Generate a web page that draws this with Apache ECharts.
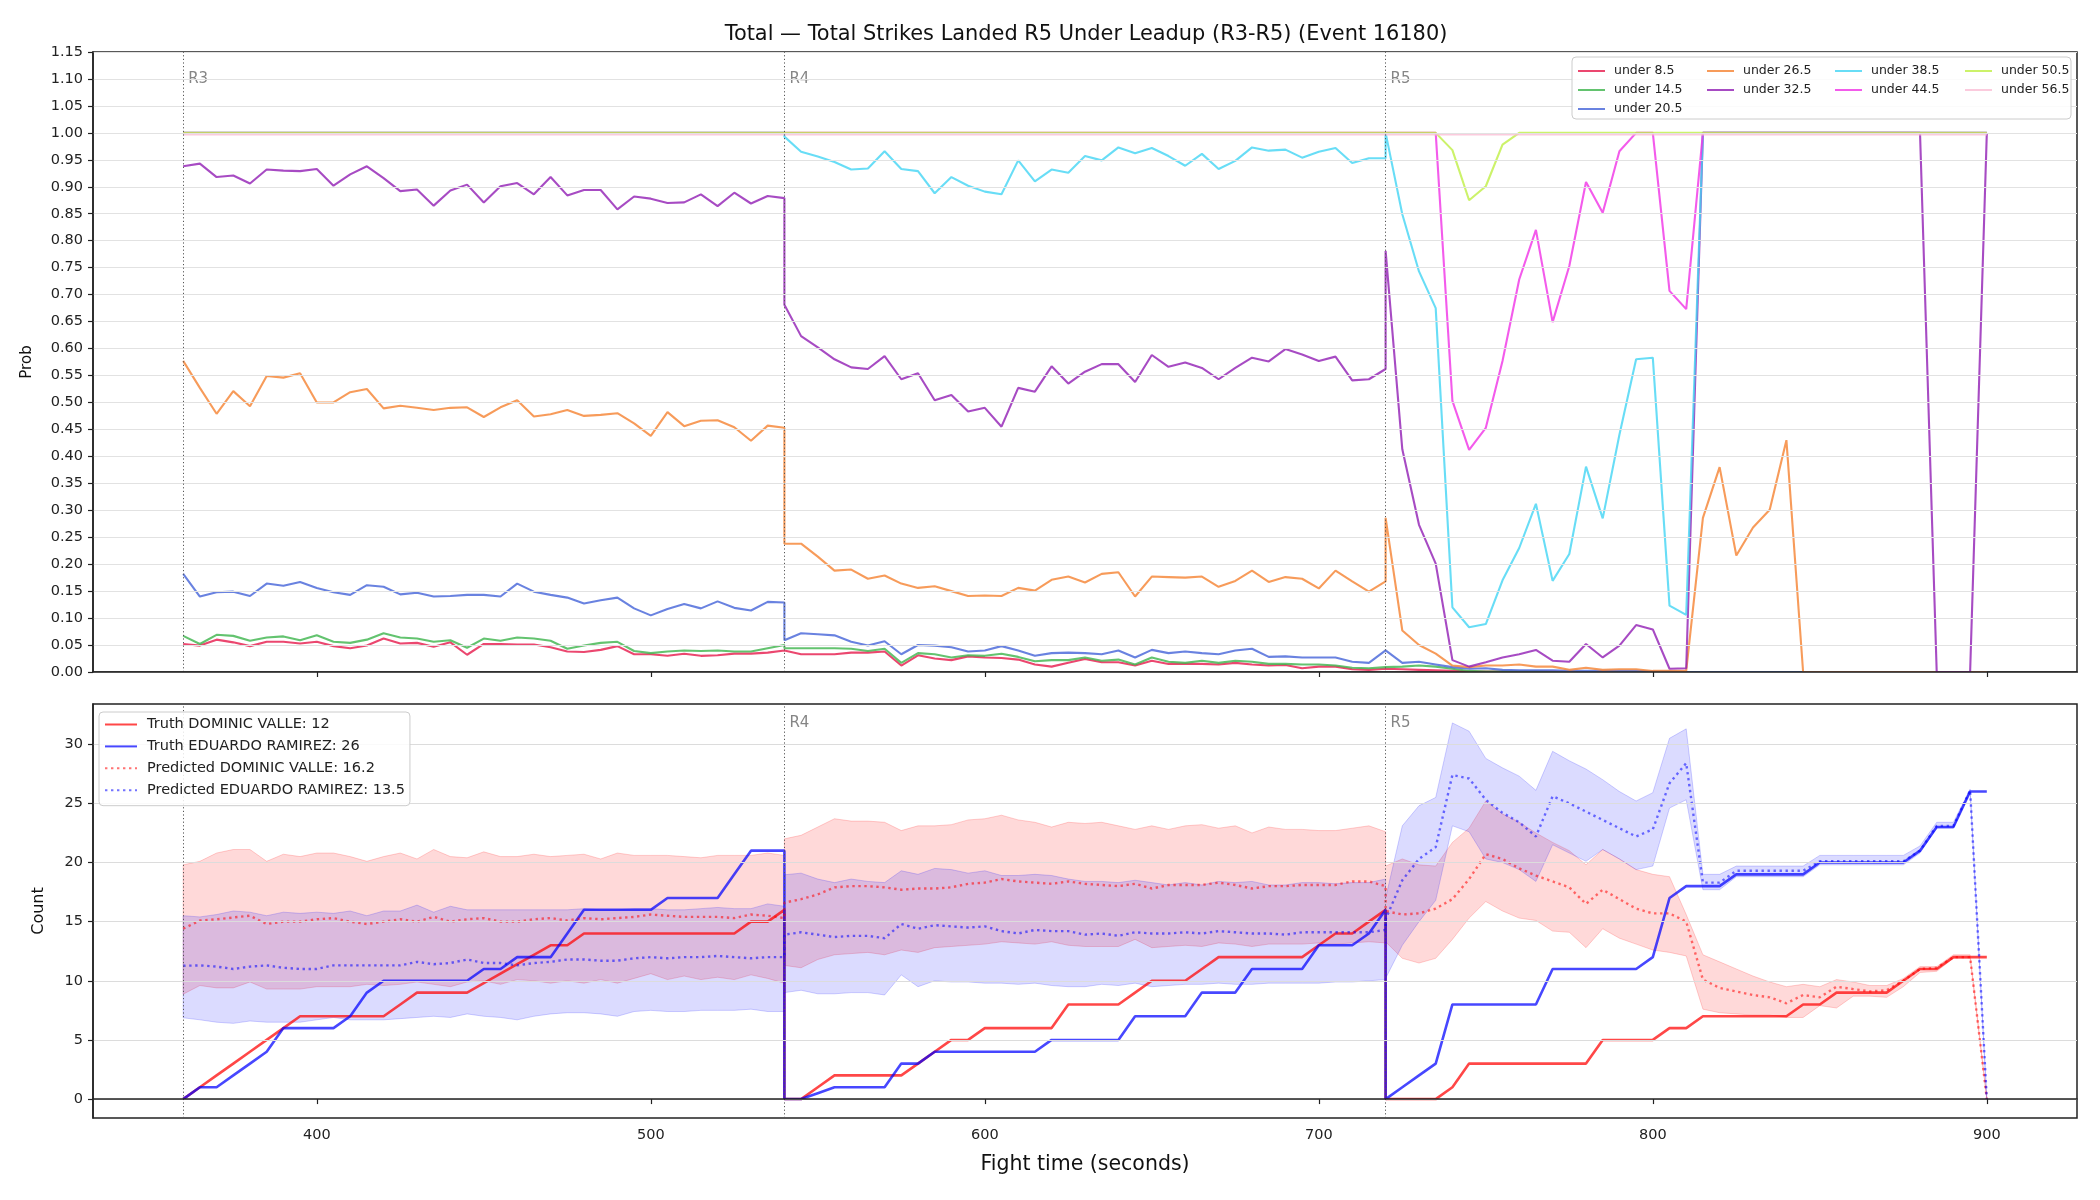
<!DOCTYPE html>
<html>
<head>
<meta charset="utf-8">
<script src="https://cdn.jsdelivr.net/npm/echarts@6/dist/echarts.min.js"></script>
<style>
html, body { margin: 0; padding: 0; background: #fff; }
#chart { width: 2100px; height: 1200px; }
</style>
</head>
<body>
<div id="chart"></div>
<script>
const roundNames = ['R3', 'R4', 'R5']
const roundStarts = [360, 540, 720]
const stepOffsets = [0, 5, 10, 15, 20, 25, 30, 35, 40, 45, 50, 55, 60, 65, 70, 75, 80, 85, 90, 95,
  100, 105, 110, 115, 120, 125, 130, 135, 140, 145, 150, 155, 160, 165, 170, 175, 180]
const timeTicks = [400, 500, 600, 700, 800, 900]
const countTicks = [0, 5, 10, 15, 20, 25, 30]

const thresholdNames = ['under 8.5', 'under 14.5', 'under 20.5', 'under 26.5', 'under 32.5',
  'under 38.5', 'under 44.5', 'under 50.5', 'under 56.5']
const thresholdColors = ['#e6194b', '#3cb44b', '#4363d8', '#f58231', '#911eb4',
  '#42d4f4', '#f032e6', '#bfef45', '#fabed4']

// probabilities, one value per 5 s sample: R3 | R4 | R5
const under8_5 = [
  0.052, 0.049, 0.060, 0.055, 0.048, 0.056, 0.056, 0.053, 0.056, 0.048, 0.044, 0.049, 0.062, 0.053, 0.054, 0.047, 0.055, 0.032, 0.052, 0.052, 0.051, 0.051, 0.046, 0.038, 0.037, 0.041, 0.048, 0.033, 0.033, 0.030, 0.034, 0.030, 0.031, 0.034, 0.034, 0.036, 0.040,
  0.038, 0.033, 0.033, 0.033, 0.036, 0.036, 0.038, 0.012, 0.031, 0.025, 0.022, 0.029, 0.027, 0.026, 0.023, 0.014, 0.010, 0.017, 0.024, 0.018, 0.018, 0.012, 0.021, 0.015, 0.015, 0.015, 0.014, 0.017, 0.014, 0.012, 0.013, 0.007, 0.010, 0.010, 0.005, 0.004, 0.006,
  0.006, 0.005, 0.004, 0.003, 0.002, 0.001, 0.001, 0.001, 0.001, 0.001, 0.001, 0, 0, 0, 0, 0, 0, 0, 0, 0, 0, 0, 0, 0, 0, 0, 0, 0, 0, 0, 0, 0, 0, 0, 0, 0, 0
]
const under14_5 = [
  0.067, 0.052, 0.069, 0.067, 0.058, 0.064, 0.066, 0.059, 0.068, 0.056, 0.054, 0.060, 0.072, 0.064, 0.062, 0.056, 0.059, 0.045, 0.062, 0.058, 0.064, 0.062, 0.058, 0.043, 0.049, 0.054, 0.056, 0.039, 0.035, 0.038, 0.040, 0.039, 0.040, 0.038, 0.038, 0.044, 0.050,
  0.044, 0.044, 0.044, 0.044, 0.043, 0.039, 0.043, 0.017, 0.035, 0.033, 0.027, 0.031, 0.030, 0.034, 0.028, 0.020, 0.022, 0.022, 0.027, 0.021, 0.023, 0.014, 0.027, 0.019, 0.017, 0.021, 0.017, 0.021, 0.019, 0.015, 0.015, 0.014, 0.014, 0.012, 0.008, 0.007, 0.009,
  0.010, 0.010, 0.012, 0.010, 0.006, 0.002, 0.001, 0.001, 0.001, 0.001, 0, 0, 0, 0, 0, 0, 0, 0, 0, 0, 0, 0, 0, 0, 0, 0, 0, 0, 0, 0, 0, 0, 0, 0, 0, 0, 0
]
const under20_5 = [
  0.182, 0.140, 0.148, 0.149, 0.141, 0.164, 0.160, 0.167, 0.156, 0.148, 0.143, 0.161, 0.158, 0.144, 0.147, 0.140, 0.141, 0.143, 0.143, 0.140, 0.164, 0.149, 0.143, 0.138, 0.127, 0.133, 0.138, 0.118, 0.105, 0.117, 0.126, 0.118, 0.131, 0.119, 0.114, 0.130, 0.129,
  0.059, 0.072, 0.070, 0.068, 0.056, 0.049, 0.057, 0.033, 0.050, 0.049, 0.046, 0.038, 0.040, 0.048, 0.040, 0.030, 0.035, 0.036, 0.035, 0.033, 0.040, 0.027, 0.041, 0.035, 0.038, 0.035, 0.033, 0.040, 0.043, 0.028, 0.029, 0.027, 0.027, 0.027, 0.019, 0.017, 0.040,
  0.042, 0.017, 0.019, 0.014, 0.009, 0.006, 0.007, 0.004, 0.003, 0.003, 0.003, 0.002, 0.002, 0.002, 0.002, 0.002, 0.001, 0.001, 0, 0, 0, 0, 0, 0, 0, 0, 0, 0, 0, 0, 0, 0, 0, 0, 0, 0, 0
]
const under26_5 = [
  0.577, 0.527, 0.479, 0.521, 0.493, 0.549, 0.546, 0.554, 0.500, 0.500, 0.519, 0.525, 0.489, 0.494, 0.490, 0.486, 0.490, 0.491, 0.473, 0.491, 0.504, 0.474, 0.478, 0.486, 0.475, 0.477, 0.480, 0.461, 0.438, 0.482, 0.456, 0.466, 0.467, 0.454, 0.429, 0.457, 0.453,
  0.238, 0.238, 0.214, 0.188, 0.190, 0.173, 0.179, 0.164, 0.156, 0.159, 0.150, 0.141, 0.142, 0.141, 0.156, 0.151, 0.171, 0.177, 0.166, 0.182, 0.185, 0.140, 0.177, 0.176, 0.175, 0.177, 0.158, 0.169, 0.188, 0.167, 0.176, 0.173, 0.155, 0.188, 0.168, 0.149, 0.168,
  0.286, 0.077, 0.050, 0.034, 0.012, 0.009, 0.012, 0.012, 0.014, 0.010, 0.010, 0.004, 0.008, 0.004, 0.005, 0.005, 0.002, 0.002, 0.002, 0.286, 0.380, 0.216, 0.268, 0.301, 0.430, 0, 0, 0, 0, 0, 0, 0, 0, 0, 0, 0, 0
]
const under32_5 = [
  0.938, 0.943, 0.918, 0.921, 0.906, 0.932, 0.930, 0.929, 0.933, 0.902, 0.923, 0.938, 0.916, 0.892, 0.895, 0.865, 0.893, 0.904, 0.871, 0.901, 0.907, 0.886, 0.918, 0.884, 0.894, 0.894, 0.858, 0.882, 0.878, 0.870, 0.871, 0.886, 0.864, 0.889, 0.869, 0.883, 0.879,
  0.681, 0.623, 0.602, 0.580, 0.565, 0.562, 0.586, 0.543, 0.554, 0.504, 0.514, 0.483, 0.490, 0.455, 0.527, 0.520, 0.567, 0.535, 0.557, 0.571, 0.571, 0.538, 0.588, 0.566, 0.574, 0.564, 0.543, 0.564, 0.583, 0.576, 0.599, 0.589, 0.577, 0.585, 0.541, 0.543, 0.562,
  0.781, 0.413, 0.273, 0.201, 0.022, 0.010, 0.018, 0.027, 0.033, 0.041, 0.021, 0.019, 0.052, 0.027, 0.049, 0.087, 0.079, 0.006, 0.007, 1, 1, 1, 1, 1, 1, 1, 1, 1, 1, 1, 1, 1, 1, 0, 0, 0, 1
]
const under38_5 = [
  1, 1, 1, 1, 1, 1, 1, 1, 1, 1, 1, 1, 1, 1, 1, 1, 1, 1, 1, 1, 1, 1, 1, 1, 1, 1, 1, 1, 1, 1, 1, 1, 1, 1, 1, 1, 1,
  0.993, 0.965, 0.956, 0.946, 0.932, 0.934, 0.966, 0.933, 0.929, 0.888, 0.918, 0.902, 0.891, 0.886, 0.949, 0.910, 0.932, 0.926, 0.957, 0.949, 0.973, 0.962, 0.972, 0.957, 0.939, 0.961, 0.933, 0.948, 0.973, 0.967, 0.969, 0.954, 0.965, 0.972, 0.944, 0.953, 0.953,
  1, 0.849, 0.743, 0.675, 0.120, 0.083, 0.089, 0.170, 0.230, 0.312, 0.169, 0.219, 0.381, 0.285, 0.440, 0.580, 0.583, 0.123, 0.106, 1, 1, 1, 1, 1, 1, 1, 1, 1, 1, 1, 1, 1, 1, 1, 1, 1, 1
]
const under44_5 = [
  1, 1, 1, 1, 1, 1, 1, 1, 1, 1, 1, 1, 1, 1, 1, 1, 1, 1, 1, 1, 1, 1, 1, 1, 1, 1, 1, 1, 1, 1, 1, 1, 1, 1, 1, 1, 1,
  1, 1, 1, 1, 1, 1, 1, 1, 1, 1, 1, 1, 1, 1, 1, 1, 1, 1, 1, 1, 1, 1, 1, 1, 1, 1, 1, 1, 1, 1, 1, 1, 1, 1, 1, 1, 1,
  1, 1, 1, 1, 0.503, 0.412, 0.453, 0.577, 0.728, 0.820, 0.649, 0.753, 0.909, 0.852, 0.966, 1, 1, 0.707, 0.673, 1, 1, 1, 1, 1, 1, 1, 1, 1, 1, 1, 1, 1, 1, 1, 1, 1, 1
]
const under50_5 = [
  1, 1, 1, 1, 1, 1, 1, 1, 1, 1, 1, 1, 1, 1, 1, 1, 1, 1, 1, 1, 1, 1, 1, 1, 1, 1, 1, 1, 1, 1, 1, 1, 1, 1, 1, 1, 1,
  1, 1, 1, 1, 1, 1, 1, 1, 1, 1, 1, 1, 1, 1, 1, 1, 1, 1, 1, 1, 1, 1, 1, 1, 1, 1, 1, 1, 1, 1, 1, 1, 1, 1, 1, 1, 1,
  1, 1, 1, 1, 0.968, 0.875, 0.901, 0.978, 1, 1, 1, 1, 1, 1, 1, 1, 1, 1, 1, 1, 1, 1, 1, 1, 1, 1, 1, 1, 1, 1, 1, 1, 1, 1, 1, 1, 1
]
const under56_5 = [
  0.997, 0.997, 0.997, 0.997, 0.997, 0.997, 0.997, 0.997, 0.997, 0.997, 0.997, 0.997, 0.997, 0.997, 0.997, 0.997, 0.997, 0.997, 0.997, 0.997, 0.997, 0.997, 0.997, 0.997, 0.997, 0.997, 0.997, 0.997, 0.997, 0.997, 0.997, 0.997, 0.997, 0.997, 0.997, 0.997, 0.997,
  0.997, 0.997, 0.997, 0.997, 0.997, 0.997, 0.997, 0.997, 0.997, 0.997, 0.997, 0.997, 0.997, 0.997, 0.997, 0.997, 0.997, 0.997, 0.997, 0.997, 0.997, 0.997, 0.997, 0.997, 0.997, 0.997, 0.997, 0.997, 0.997, 0.997, 0.997, 0.997, 0.997, 0.997, 0.997, 0.997, 0.997,
  0.997, 0.997, 0.997, 0.997, 0.997, 0.997, 0.997, 0.997, 0.997, 0.997, 0.997, 0.997, 0.997, 0.997, 0.997, 0.997, 0.997, 0.997, 0.997, 0.997, 0.997, 0.997, 0.997, 0.997, 0.997, 0.997, 0.997, 0.997, 0.997, 0.997, 0.997, 0.997, 0.997, 0.997, 0.997, 0.997, 0.997
]
const probSeries = [under8_5, under14_5, under20_5, under26_5, under32_5, under38_5, under44_5, under50_5, under56_5]

// counts
const fighterLabels = ['Truth DOMINIC VALLE: 12', 'Truth EDUARDO RAMIREZ: 26',
  'Predicted DOMINIC VALLE: 16.2', 'Predicted EDUARDO RAMIREZ: 13.5']

const truthValle = [
  0, 1, 2, 3, 4, 5, 6, 7, 7, 7, 7, 7, 7, 8, 9, 9, 9, 9, 9.8, 10.6, 11.4, 12.2, 13, 13, 14, 14, 14, 14, 14, 14, 14, 14, 14, 14, 15, 15, 16,
  0, 0, 1, 2, 2, 2, 2, 2, 3, 4, 5, 5, 6, 6, 6, 6, 6, 8, 8, 8, 8, 9, 10, 10, 10, 11, 12, 12, 12, 12, 12, 12, 13, 14, 14, 15, 16,
  0, 0, 0, 0, 1, 3, 3, 3, 3, 3, 3, 3, 3, 5, 5, 5, 5, 6, 6, 7, 7, 7, 7, 7, 7, 8, 8, 9, 9, 9, 9, 10, 11, 11, 12, 12, 12
]
const truthRamirez = [
  0, 1, 1, 2, 3, 4, 6, 6, 6, 6, 7, 9, 10, 10, 10, 10, 10, 10, 11, 11, 12, 12, 12, 14, 16, 16, 16, 16, 16, 17, 17, 17, 17, 19, 21, 21, 21,
  0, 0, 0.5, 1, 1, 1, 1, 3, 3, 4, 4, 4, 4, 4, 4, 4, 5, 5, 5, 5, 5, 7, 7, 7, 7, 9, 9, 9, 11, 11, 11, 11, 13, 13, 13, 14, 16,
  0, 1, 2, 3, 8, 8, 8, 8, 8, 8, 11, 11, 11, 11, 11, 11, 12, 17, 18, 18, 18, 19, 19, 19, 19, 19, 20, 20, 20, 20, 20, 20, 21, 23, 23, 26, 26
]
const predValle = [
  14.4, 15.1, 15.2, 15.35, 15.5, 14.8, 15.0, 15.0, 15.2, 15.3, 15.0, 14.8, 15.0, 15.2, 15.0, 15.4, 15.0, 15.2, 15.3, 15.0, 15.0, 15.2, 15.3, 15.1, 15.3, 15.2, 15.3, 15.4, 15.6, 15.5, 15.4, 15.4, 15.4, 15.3, 15.6, 15.5, 15.3,
  16.6, 16.9, 17.3, 17.9, 18.0, 18.0, 17.9, 17.7, 17.8, 17.8, 17.9, 18.2, 18.3, 18.6, 18.4, 18.3, 18.2, 18.4, 18.2, 18.1, 18.0, 18.2, 17.8, 18.1, 18.1, 18.1, 18.3, 18.1, 17.8, 18.0, 18.0, 18.1, 18.1, 18.1, 18.4, 18.4, 18.0,
  15.9, 15.6, 15.7, 16.1, 16.9, 18.6, 20.7, 20.3, 19.5, 18.9, 18.4, 17.9, 16.5, 17.7, 16.9, 16.1, 15.7, 15.7, 15.0, 10.1, 9.4, 9.1, 8.8, 8.6, 8.1, 8.8, 8.6, 9.5, 9.3, 9.1, 9.2, 10.0, 11.0, 11.1, 12.0, 12.0, 0
]
const predRamirez = [
  11.27, 11.3, 11.2, 11.0, 11.2, 11.3, 11.1, 11.0, 11.0, 11.3, 11.3, 11.3, 11.3, 11.3, 11.6, 11.4, 11.5, 11.8, 11.5, 11.5, 11.3, 11.5, 11.6, 11.8, 11.8, 11.7, 11.7, 11.9, 12.0, 11.9, 12.0, 12.0, 12.1, 12.0, 11.9, 12.0, 12.0,
  13.9, 14.1, 13.9, 13.7, 13.8, 13.8, 13.6, 14.8, 14.4, 14.7, 14.6, 14.5, 14.6, 14.2, 14.0, 14.3, 14.2, 14.2, 13.9, 14.0, 13.8, 14.1, 14.0, 14.0, 14.1, 14.0, 14.2, 14.1, 14.0, 14.0, 13.9, 14.1, 14.1, 14.1, 14.1, 14.1, 14.3,
  15.2, 18.5, 20.3, 21.3, 27.4, 27.1, 25.3, 24.2, 23.4, 22.2, 25.6, 25.0, 24.3, 23.6, 22.9, 22.2, 22.8, 26.7, 28.4, 18.3, 18.3, 19.3, 19.3, 19.3, 19.3, 19.3, 20.1, 20.1, 20.1, 20.1, 20.1, 20.1, 21.0, 23.1, 23.1, 26.1, 0
]
const valleLow = [
  8.87, 9.6, 9.4, 9.4, 9.9, 9.3, 9.3, 9.3, 9.5, 9.5, 9.5, 9.7, 9.6, 9.7, 9.9, 9.7, 9.5, 9.9, 10.0, 9.7, 10.1, 10.0, 9.8, 10.0, 9.8, 10.1, 9.8, 10.2, 10.6, 10.1, 10.4, 10.1, 10.3, 10.1, 10.5, 10.2, 9.8,
  11.3, 11.1, 11.8, 12.2, 12.3, 12.4, 12.2, 12.6, 12.4, 12.8, 12.9, 13.0, 13.1, 13.3, 13.2, 13.1, 13.3, 13.0, 12.9, 12.9, 12.9, 13.5, 12.8, 12.9, 13.0, 12.9, 13.2, 13.1, 12.9, 13.1, 13.1, 13.1, 13.2, 13.1, 13.2, 13.3, 13.2,
  13.3, 11.9, 11.5, 11.9, 13.5, 15.3, 16.7, 15.9, 15.3, 15.1, 14.2, 14.1, 12.8, 14.4, 13.6, 13.1, 12.6, 12.4, 12.1, 7.6, 7.3, 7.2, 7.1, 7.1, 6.9, 6.9, 7.9, 7.7, 8.7, 8.7, 8.6, 9.5, 10.7, 10.8, 11.9, 11.9, 0
]
const valleHigh = [
  19.8, 20.1, 20.8, 21.1, 21.1, 20.1, 20.7, 20.5, 20.8, 20.8, 20.5, 20.1, 20.5, 20.8, 20.3, 21.1, 20.5, 20.4, 20.9, 20.5, 20.5, 20.7, 20.5, 20.6, 20.7, 20.3, 20.8, 20.6, 20.6, 20.6, 20.5, 20.4, 20.6, 20.6, 20.6, 20.8, 20.6,
  22.0, 22.3, 23.0, 23.7, 23.5, 23.5, 23.4, 22.7, 23.1, 23.1, 23.2, 23.6, 23.7, 24.0, 23.6, 23.4, 23.0, 23.4, 23.3, 23.4, 23.1, 22.8, 23.1, 22.8, 23.1, 23.2, 22.9, 23.1, 22.5, 23.0, 22.8, 22.8, 22.7, 22.7, 22.9, 23.1, 22.6,
  19.7, 20.3, 19.8, 19.7, 21.7, 22.9, 25.2, 24.1, 23.4, 22.5, 21.7, 21.0, 19.8, 21.1, 20.3, 19.4, 19.0, 18.8, 15.6, 12.2, 11.6, 11.0, 10.4, 9.9, 9.5, 9.7, 9.5, 10.1, 9.9, 9.6, 9.6, 10.2, 11.2, 11.2, 12.2, 12.2, 0
]
const ramirezLow = [
  6.87, 6.7, 6.5, 6.4, 6.6, 6.5, 6.5, 6.5, 6.7, 6.9, 6.7, 6.7, 6.7, 6.8, 6.9, 7.0, 6.9, 7.2, 7.0, 6.9, 6.7, 7.0, 7.2, 7.3, 7.3, 7.2, 7.0, 7.4, 7.5, 7.4, 7.4, 7.5, 7.5, 7.5, 7.6, 7.4, 7.4,
  9.0, 9.2, 8.9, 8.9, 9.0, 9.0, 8.8, 10.5, 9.5, 10.0, 9.9, 9.9, 9.8, 9.8, 9.7, 9.8, 9.6, 9.5, 9.5, 9.7, 9.6, 9.8, 9.5, 9.6, 9.7, 9.7, 9.8, 9.7, 9.7, 9.8, 9.8, 9.8, 9.8, 9.9, 9.9, 10.0, 10.1,
  10.2, 13.0, 15.0, 16.8, 23.1, 22.6, 20.3, 20.0, 19.4, 18.4, 21.5, 20.8, 20.1, 21.1, 20.3, 19.4, 19.7, 24.6, 25.3, 17.7, 17.7, 18.8, 18.8, 18.8, 18.8, 18.8, 19.8, 19.8, 19.8, 19.8, 19.8, 19.8, 20.8, 22.9, 22.9, 26.0, 0
]
const ramirezHigh = [
  15.5, 15.4, 15.6, 15.9, 15.8, 15.5, 15.8, 15.7, 15.8, 15.7, 15.9, 15.5, 15.9, 15.9, 16.4, 15.8, 16.3, 16.0, 16.0, 16.0, 16.0, 16.0, 16.0, 16.0, 16.1, 16.0, 16.0, 16.1, 16.1, 16.0, 16.0, 16.1, 16.2, 16.1, 16.1, 16.5, 16.3,
  18.96, 19.1, 18.6, 18.3, 18.6, 18.4, 18.3, 19.3, 19.0, 19.5, 19.4, 19.1, 19.3, 18.9, 18.9, 19.0, 18.9, 18.6, 18.4, 18.4, 18.3, 18.5, 18.3, 18.1, 18.3, 18.1, 18.4, 18.3, 18.4, 18.1, 18.1, 18.3, 18.3, 18.2, 18.3, 18.3, 18.6,
  17.0, 23.1, 24.8, 25.5, 31.8, 31.1, 28.8, 28.0, 27.3, 26.1, 29.4, 28.6, 27.9, 27.0, 26.0, 25.2, 25.9, 30.5, 31.3, 19.0, 19.0, 19.7, 19.7, 19.7, 19.7, 19.7, 20.6, 20.6, 20.6, 20.6, 20.6, 20.6, 21.4, 23.4, 23.4, 26.2, 0
]

const times = []
roundStarts.forEach(start => stepOffsets.forEach(off => times.push(start + off)))

const allArrays = [...probSeries, truthValle, truthRamirez, predValle, predRamirez, valleLow, valleHigh, ramirezLow, ramirezHigh]
allArrays.forEach((arr, i) => {
  if (arr.length !== times.length) throw new Error('array ' + i + ' has ' + arr.length + ' values, expected ' + times.length)
})

const toPairs = values => times.map((t, i) => [t, values[i]])
const font = 'DejaVu Sans'

const chart = echarts.init(document.getElementById('chart'))
const series = []

// top panel: probability lines
probSeries.forEach((values, i) => {
  series.push({
    name: thresholdNames[i],
    type: 'line',
    xAxisIndex: 0,
    yAxisIndex: 0,
    data: toPairs(values),
    symbol: 'none',
    z: 3,
    lineStyle: { color: thresholdColors[i], width: 2.1, opacity: 0.8 },
    itemStyle: { color: thresholdColors[i], opacity: 0.8 },
  })
})

function roundLines(axisIndex) {
  return {
    type: 'line',
    xAxisIndex: axisIndex,
    yAxisIndex: axisIndex,
    data: [],
    z: 2,
    silent: true,
    markLine: {
      silent: true,
      symbol: ['none', 'none'],
      animation: false,
      label: { show: false },
      lineStyle: { color: '#555', type: [1.2, 2.4], width: 1 },
      data: roundStarts.map(s => ({ xAxis: s })),
    },
  }
}

function roundLabels(axisIndex, labelY, from) {
  return {
    type: 'scatter',
    xAxisIndex: axisIndex,
    yAxisIndex: axisIndex,
    symbolSize: 0,
    silent: true,
    z: 4,
    data: roundStarts.slice(from).map((s, k) => ({ value: [s, labelY], name: roundNames[k + from] })),
    label: {
      show: true, position: 'right', distance: 5, formatter: '{b}',
      color: '#666', fontSize: 15, fontFamily: font,
    },
  }
}

series.push(roundLines(0), roundLabels(0, 1.10, 0))

// bottom panel
function band(lower, upper, fill, edge) {
  return {
    type: 'custom',
    xAxisIndex: 1,
    yAxisIndex: 1,
    z: 1,
    silent: true,
    data: [[times[0], lower[0]]],
    renderItem: function (params, api) {
      const top = []
      const bottom = []
      for (let i = 0; i < times.length; i++) {
        top.push(api.coord([times[i], upper[i]]))
        bottom.push(api.coord([times[i], lower[i]]))
      }
      return {
        type: 'polygon',
        shape: { points: top.concat(bottom.reverse()) },
        style: { fill: fill, stroke: edge, lineWidth: 1 },
      }
    },
  }
}

series.push(band(valleLow, valleHigh, 'rgba(255,0,0,0.15)', 'rgba(255,0,0,0.18)'))
series.push(band(ramirezLow, ramirezHigh, 'rgba(0,0,255,0.14)', 'rgba(0,0,255,0.18)'))

series.push({
  type: 'line',
  xAxisIndex: 1,
  yAxisIndex: 1,
  data: [],
  z: 2,
  silent: true,
  markLine: {
    silent: true,
    symbol: ['none', 'none'],
    animation: false,
    label: { show: false },
    lineStyle: { color: '#dcdcdc', type: 'solid', width: 1 },
    data: countTicks.map(v => ({ yAxis: v })),
  },
})

series.push(roundLines(1), roundLabels(1, 31.8, 1))

const fighterLines = [
  { values: truthValle, color: '#ff0000', opacity: 0.72, width: 2.6, type: 'solid' },
  { values: truthRamirez, color: '#0000ff', opacity: 0.72, width: 2.6, type: 'solid' },
  { values: predValle, color: '#ff0000', opacity: 0.55, width: 2.4, type: [2.4, 3.6] },
  { values: predRamirez, color: '#0000ff', opacity: 0.55, width: 2.4, type: [2.4, 3.6] },
]
fighterLines.forEach((f, i) => {
  series.push({
    name: fighterLabels[i],
    type: 'line',
    xAxisIndex: 1,
    yAxisIndex: 1,
    data: toPairs(f.values),
    symbol: 'none',
    z: 3,
    lineStyle: { color: f.color, opacity: f.opacity, width: f.width, type: f.type },
    itemStyle: { color: f.color, opacity: f.opacity },
  })
})

const legendColumns = [
  thresholdNames.slice(0, 3),
  thresholdNames.slice(3, 5),
  thresholdNames.slice(5, 7),
  thresholdNames.slice(7, 9),
]
const legendLefts = [1577, 1706, 1834, 1964]

const axisText = { color: '#222', fontSize: 14.5, fontFamily: font }
const axisLineStyle = { show: true, lineStyle: { color: '#222', width: 1.5 } }
const tickStyle = { show: true, inside: false, length: 5, lineStyle: { color: '#222', width: 1.2 } }
// hide the round marker that ECharts adds to line legend icons
const legendMarker = { color: 'rgba(0,0,0,0)', opacity: 0, borderWidth: 0 }

const options = {
  animation: false,
  backgroundColor: '#fff',
  textStyle: { fontFamily: font },
  title: {
    text: 'Total — Total Strikes Landed R5 Under Leadup (R3-R5) (Event 16180)',
    left: 1081,
    top: 19,
    textAlign: 'center',
    textStyle: { fontFamily: font, fontSize: 20.9, fontWeight: 'normal', color: '#111' },
  },
  grid: [
    { left: 93, top: 52, width: 1984, height: 620, show: true, borderColor: '#222', borderWidth: 1.5, backgroundColor: 'transparent' },
    { left: 93, top: 704, width: 1984, height: 414, show: true, borderColor: '#222', borderWidth: 1.5, backgroundColor: 'transparent' },
  ],
  xAxis: [
    {
      type: 'value', gridIndex: 0, min: 333, max: 927, z: 5,
      axisLine: axisLineStyle,
      axisTick: { ...tickStyle, customValues: timeTicks },
      axisLabel: { show: false },
      splitLine: { show: false },
    },
    {
      type: 'value', gridIndex: 1, min: 333, max: 927, z: 5,
      name: 'Fight time (seconds)',
      nameLocation: 'middle',
      nameGap: 36,
      nameTextStyle: { color: '#111', fontSize: 20.5, fontFamily: font },
      axisLine: axisLineStyle,
      axisTick: { ...tickStyle, customValues: timeTicks },
      axisLabel: { ...axisText, margin: 10, customValues: timeTicks },
      splitLine: { show: false },
    },
  ],
  yAxis: [
    {
      type: 'value', gridIndex: 0, min: 0, max: 1.15, interval: 0.05, z: 5,
      name: 'Prob',
      nameLocation: 'middle',
      nameGap: 58,
      nameTextStyle: { color: '#111', fontSize: 15, fontFamily: font },
      axisLine: axisLineStyle,
      axisTick: tickStyle,
      axisLabel: { ...axisText, margin: 10, formatter: v => v.toFixed(2) },
      splitLine: { show: true, lineStyle: { color: '#e2e2e2', width: 1 } },
    },
    {
      type: 'value', gridIndex: 1, min: -1.6, max: 33.4, z: 5,
      name: 'Count',
      nameLocation: 'middle',
      nameGap: 46,
      nameTextStyle: { color: '#111', fontSize: 16, fontFamily: font },
      axisLine: axisLineStyle,
      axisTick: { ...tickStyle, customValues: countTicks },
      axisLabel: { ...axisText, margin: 10, customValues: countTicks },
      splitLine: { show: false },
    },
  ],
  legend: [
    ...legendColumns.map((names, i) => ({
      data: names,
      orient: 'vertical',
      left: legendLefts[i],
      top: 64.5,
      padding: 0,
      itemWidth: 27,
      itemHeight: 12,
      itemGap: 6,
      z: 7,
      itemStyle: legendMarker,
      textStyle: { fontSize: 12.5, lineHeight: 12, fontFamily: font, color: '#222', padding: [0, 0, 0, 4] },
    })),
    {
      data: fighterLabels,
      orient: 'vertical',
      left: 99,
      top: 712,
      padding: [5, 5, 8, 5],
      itemWidth: 32,
      itemHeight: 12,
      itemGap: 6.9,
      z: 7,
      itemStyle: legendMarker,
      backgroundColor: 'rgba(255,255,255,0.85)',
      borderColor: '#cccccc',
      borderWidth: 1,
      borderRadius: 4,
      textStyle: { fontSize: 14.5, lineHeight: 12, fontFamily: font, color: '#222', padding: [0, 0, 0, 5] },
    },
  ],
  graphic: [
    {
      type: 'rect',
      z: 6,
      shape: { x: 1572, y: 57, width: 499, height: 62, r: 4 },
      style: { fill: 'rgba(255,255,255,0.85)', stroke: '#cccccc', lineWidth: 1 },
    },
  ],
  series: series,
}

chart.setOption(options)
</script>
</body>
</html>
